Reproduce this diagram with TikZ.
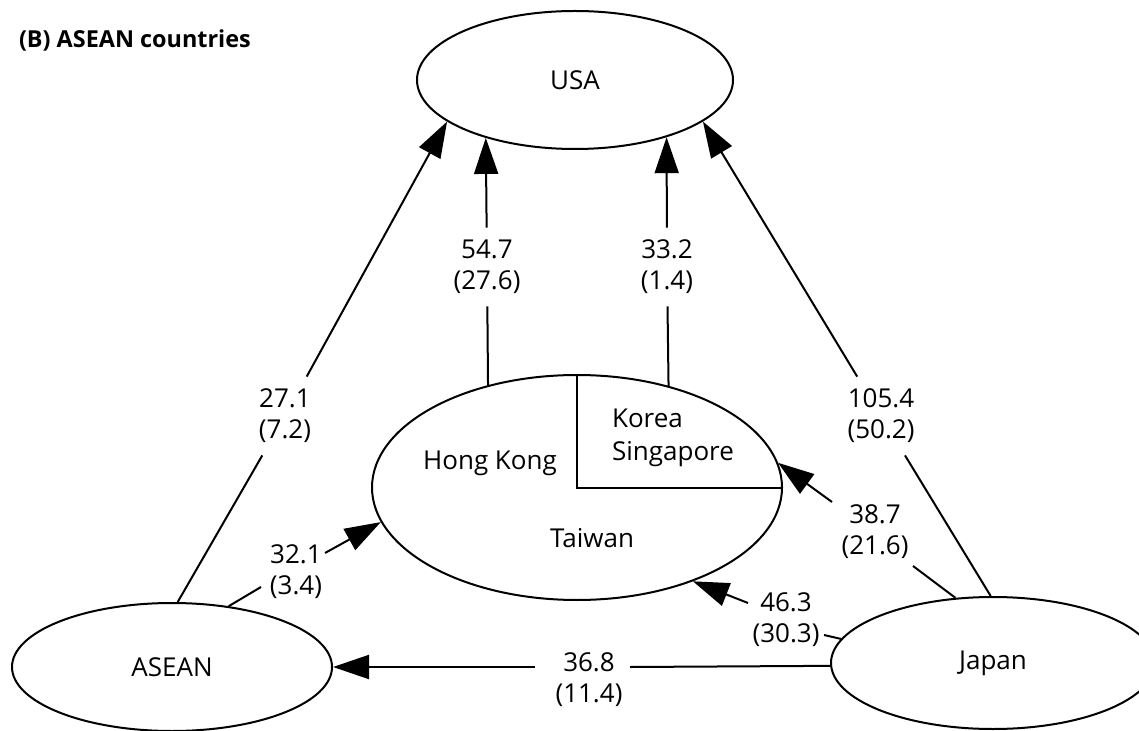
\documentclass[tikz,border=0pt]{standalone}
\usepackage{fontspec}
\setmainfont{Open Sans}
\usetikzlibrary{arrows.meta,shapes.geometric}
\begin{document}
\begin{tikzpicture}[x=0.5pt,y=-0.5pt,
  every node/.style={font=\fontsize{13}{15.5}\selectfont},
  region/.style={draw, ellipse, line width=1pt, inner sep=0pt},
  link/.style={line width=1pt},
  flow/.style={link, -{Triangle[length=18pt,width=12pt]}},
  figure/.style={align=center, inner sep=0pt, minimum height=39pt},
  tag/.style={align=center, inner sep=0pt}]

\fill[white] (0,0) rectangle (1139,731);
\useasboundingbox (0,0) rectangle (1139,731);

% title
\node[anchor=base west, font=\bfseries\fontsize{11.7}{13}\selectfont] (title) at (12,48) {(B) ASEAN countries};

% regions
\node[region, minimum width=158pt, minimum height=69pt] (usa) at (575,80) {USA};
\node[region, minimum width=205pt, minimum height=112.5pt] (nies) at (577,487.5) {};
\node[region, minimum width=160pt, minimum height=64pt] (asean) at (172,667) {ASEAN};
\node[region, minimum width=162pt, minimum height=66pt] (japan) at (993,663) {Japan};

% partition of the NIEs ellipse
\draw[link] (nies.north) -- (nies.center) -- (nies.east);
\node[anchor=base] (hk) at (490,470) {Hong Kong};
\node[anchor=base west] (kor) at (605,428) {Korea};
\node[anchor=base west] (sgp) at (605,460) {Singapore};
\node[anchor=base] (tw) at (592,547) {Taiwan};

% flow values
\node[figure] (l1) at (285,416) {27.1\\(7.2)};
\node[figure] (l2) at (487,267) {54.7\\(27.6)};
\node[figure] (l3) at (667,267) {33.2\\(1.4)};
\node[figure] (l4) at (881,416) {105.4\\(50.2)};
\node[tag] (l5) at (296,572) {32.1\\(3.4)};
\node[tag] (l6) at (875,532) {38.7\\(21.6)};
\node[tag] (l7) at (786,620) {46.3\\(30.3)};
\node[tag] (l8) at (589,680) {36.8\\(11.4)};

% flows into the USA
\draw[link] (asean.85.7) -- (l1);
\draw[flow] (l1) -- (usa.198);
\draw[link] (nies.131.7) -- (l2);
\draw[flow] (l2) -- (usa.213.1);
\draw[link] (nies.48.7) -- (l3);
\draw[flow] (l3) -- (usa.328.2);
\draw[link] (japan.92.6) -- (l4);
\draw[flow] (l4) -- (usa.342.5);

% ASEAN to NIEs
\coordinate (a5) at (261,587);
\coordinate (b5) at (325,553);
\draw[link] (asean.47.8) -- (a5);
\draw[flow] (b5) -- (nies.190);

% Japan to NIEs
\coordinate (a6) at (913,566);
\coordinate (b6) at (832,502);
\draw[link] (japan.120.7) -- (a6);
\draw[flow] (b6) -- (nies.7.2);
\coordinate (a7) at (824,635);
\coordinate (b7) at (748,603);
\draw[link] (japan.171.3) -- (a7);
\draw[flow] (b7) -- (nies.321.8);

% Japan to ASEAN
\coordinate (a8) at (630,667);
\coordinate (b8) at (535,667);
\draw[link] (japan.181.4) -- (a8);
\draw[flow] (b8) -- (asean.east);
\end{tikzpicture}
\end{document}
